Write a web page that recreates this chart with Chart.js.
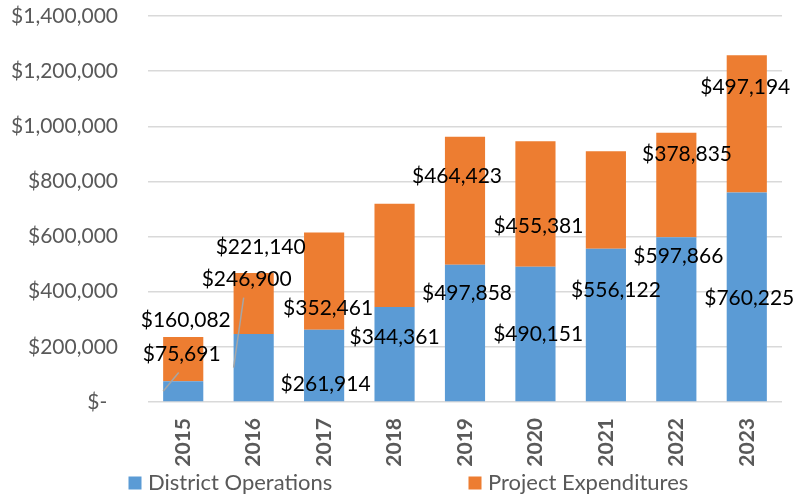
<!DOCTYPE html>
<html>
<head>
<meta charset="utf-8">
<script src="https://cdn.jsdelivr.net/npm/chart.js@4/dist/chart.umd.min.js"></script>
<style>
  html, body { margin: 0; padding: 0; background: #ffffff; }
  #wrap { width: 797px; height: 497px; position: relative; }
</style>
</head>
<body>
<div id="wrap"><canvas id="c" width="797" height="497"></canvas></div>
<script>
// ---- data ----
const years = ['2015', '2016', '2017', '2018', '2019', '2020', '2021', '2022', '2023'];
const districtOperations = [75691, 246900, 261914, 344361, 497858, 490151, 556122, 597866, 760225];
const projectExpenditures = [160082, 221140, 352461, 375000, 464423, 455381, 353000, 378835, 497194];
const projectLabelShown = [true, true, true, false, true, true, false, true, true];
const seriesNames = ['District Operations', 'Project Expenditures'];

// ---- label placement (pixel offsets from segment centre) ----
const opsLabelOffset = [[-1.5, -36.6], [-7, -88], [1.5, 19], [0, -17], [2, -40], [2.7, 0.6], [10, -35], [2, -63], [2.5, 1]];
const projLabelOffset = [[2.5, -39], [7, -56.7], [4, 27], [0, 0], [-8, -24], [3, 22.6], [0, 0], [10.7, -31], [-1.5, -37]];
const opsLeader = [true, true, false, false, false, false, false, false, false];

const BLUE = '#5B9BD5';
const ORANGE = '#ED7D31';
const GREY_TEXT = '#595959';
const FONT = 'Lato, "Open Sans", sans-serif';

function money(v) { return '$' + Math.round(v).toLocaleString('en-US'); }

const dataLabelPlugin = {
  id: 'dataLabels',
  afterDatasetsDraw(chart) {
    const ctx = chart.ctx;
    ctx.save();
    ctx.font = '21px ' + FONT;
    ctx.fillStyle = '#000000';
    ctx.textAlign = 'center';
    ctx.textBaseline = 'middle';
    const sets = [
      { idx: 0, values: districtOperations, offs: opsLabelOffset, show: districtOperations.map(() => true) },
      { idx: 1, values: projectExpenditures, offs: projLabelOffset, show: projectLabelShown }
    ];
    sets.forEach(s => {
      const meta = chart.getDatasetMeta(s.idx);
      meta.data.forEach((bar, i) => {
        if (!s.show[i]) return;
        const midY = (bar.y + bar.base) / 2;
        const lx = bar.x + s.offs[i][0];
        const ly = midY + s.offs[i][1];
        if (s.idx === 0 && opsLeader[i]) {
          ctx.strokeStyle = '#A6A6A6';
          ctx.lineWidth = 1.5;
          ctx.beginPath();
          ctx.moveTo(lx - 3, ly + 18);
          ctx.lineTo(bar.x - bar.width / 2, midY);
          ctx.stroke();
        }
        ctx.fillText(money(s.values[i]), lx, ly);
      });
    });
    ctx.restore();
  }
};

const legendPlugin = {
  id: 'bottomLegend',
  afterDraw(chart) {
    const ctx = chart.ctx;
    ctx.save();
    ctx.font = '22px ' + FONT;
    ctx.textBaseline = 'middle';
    ctx.textAlign = 'left';
    const y = 483;
    const starts = [128.5, 468.5];
    chart.data.datasets.forEach((ds, i) => {
      ctx.fillStyle = ds.backgroundColor;
      ctx.fillRect(starts[i], y - 6.5, 13, 13);
      ctx.fillStyle = GREY_TEXT;
      ctx.fillText(ds.label, starts[i] + 19.5, y);
    });
    ctx.restore();
  }
};

new Chart(document.getElementById('c'), {
  type: 'bar',
  data: {
    labels: years,
    datasets: [
      { label: seriesNames[0], data: districtOperations, backgroundColor: BLUE, borderWidth: 0 },
      { label: seriesNames[1], data: projectExpenditures, backgroundColor: ORANGE, borderWidth: 0 }
    ]
  },
  options: {
    responsive: false,
    animation: false,
    devicePixelRatio: 1,
    layout: { padding: { top: 16, right: 15, bottom: 30, left: 0 } },
    datasets: { bar: { barPercentage: 0.57, categoryPercentage: 1.0 } },
    plugins: { legend: { display: false }, tooltip: { enabled: false } },
    scales: {
      x: {
        stacked: true,
        grid: { display: false, drawTicks: false },
        border: { display: false },
        ticks: {
          color: GREY_TEXT,
          font: { family: FONT, size: 21, weight: 'bold' },
          minRotation: 90, maxRotation: 90,
          padding: 16
        },
        afterFit(scale) { scale.height = 65; }
      },
      y: {
        stacked: true,
        min: 0, max: 1400000,
        grid: { color: '#D9D9D9', lineWidth: 1.5, drawTicks: true, tickLength: 27, tickColor: 'rgba(0,0,0,0)' },
        border: { display: false },
        ticks: {
          stepSize: 200000,
          color: GREY_TEXT,
          font: { family: FONT, size: 21 },
          padding: 3,
          callback: v => v === 0 ? '$-  ' : money(v)
        },
        afterFit(scale) { scale.width = 148; }
      }
    }
  },
  plugins: [dataLabelPlugin, legendPlugin]
});
</script>
</body>
</html>
